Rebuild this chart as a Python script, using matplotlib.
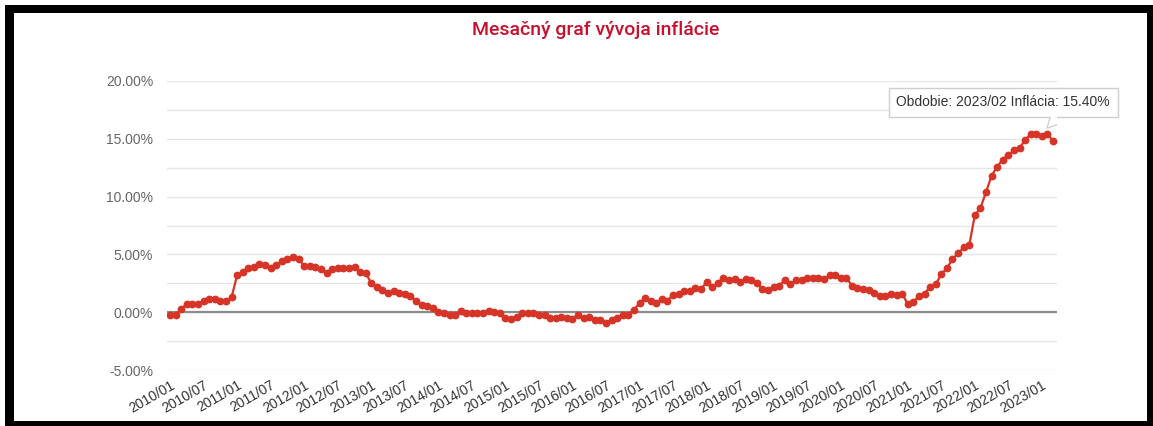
import matplotlib

matplotlib.use("Agg")
import matplotlib.pyplot as plt
import matplotlib.transforms as mtransforms
import numpy as np
from matplotlib.patches import Polygon, Rectangle

plt.rcParams["font.family"] = ["Liberation Sans", "DejaVu Sans"]

# mesačná inflácia (%), odčítané z grafu
infl_2010 = [-0.2, -0.2, 0.3, 0.7, 0.7, 0.7, 1.0, 1.1, 1.1, 1.0, 1.0, 1.3]
infl_2011 = [3.2, 3.5, 3.8, 3.9, 4.2, 4.1, 3.8, 4.1, 4.4, 4.6, 4.8, 4.6]
infl_2012 = [4.0, 4.0, 3.9, 3.7, 3.4, 3.7, 3.8, 3.8, 3.8, 3.9, 3.5, 3.4]
infl_2013 = [2.5, 2.2, 1.9, 1.7, 1.8, 1.7, 1.6, 1.4, 1.0, 0.6, 0.5, 0.4]
infl_2014 = [0.0, -0.1, -0.2, -0.2, 0.1, -0.1, -0.1, -0.1, -0.1, 0.1, 0.0, -0.1]
infl_2015 = [-0.5, -0.6, -0.4, -0.1, -0.1, -0.1, -0.2, -0.2, -0.5, -0.5, -0.4, -0.5]
infl_2016 = [-0.6, -0.2, -0.5, -0.4, -0.7, -0.7, -0.9, -0.7, -0.5, -0.2, -0.2, 0.2]
infl_2017 = [0.8, 1.2, 1.0, 0.8, 1.1, 1.0, 1.5, 1.6, 1.8, 1.8, 2.1, 2.0]
infl_2018 = [2.6, 2.2, 2.5, 3.0, 2.8, 2.9, 2.6, 2.9, 2.8, 2.5, 2.0, 1.9]
infl_2019 = [2.2, 2.3, 2.8, 2.4, 2.8, 2.8, 3.0, 3.0, 3.0, 2.9, 3.2, 3.2]
infl_2020 = [3.0, 3.0, 2.3, 2.1, 2.0, 1.9, 1.7, 1.4, 1.4, 1.6, 1.5, 1.6]
infl_2021 = [0.7, 0.9, 1.4, 1.6, 2.2, 2.4, 3.3, 3.8, 4.6, 5.1, 5.6, 5.8]
infl_2022 = [8.4, 9.0, 10.4, 11.8, 12.6, 13.2, 13.6, 14.0, 14.2, 14.9, 15.4, 15.4]
infl_2023 = [15.2, 15.4, 14.8]

inflation = np.array(
    infl_2010 + infl_2011 + infl_2012 + infl_2013 + infl_2014 + infl_2015 + infl_2016
    + infl_2017 + infl_2018 + infl_2019 + infl_2020 + infl_2021 + infl_2022 + infl_2023
)
periods = [f"{y}/{m:02d}" for y in range(2010, 2024) for m in range(1, 13)][: len(inflation)]

tick_labels = [
    "2010/01", "2010/07", "2011/01", "2011/07", "2012/01", "2012/07", "2013/01",
    "2013/07", "2014/01", "2014/07", "2015/01", "2015/07", "2016/01", "2016/07",
    "2017/01", "2017/07", "2018/01", "2018/07", "2019/01", "2019/07", "2020/01",
    "2020/07", "2021/01", "2021/07", "2022/01", "2022/07", "2023/01",
]
highlight_period = "2023/02"

W, H = 1153, 426
fig = plt.figure(figsize=(W / 100, H / 100), dpi=100)

# čierny rám okolo obrázka
fig.add_artist(Rectangle((5 / W, 0), 1 - 5 / W, 1 - 5 / H, transform=fig.transFigure,
                         facecolor="black", edgecolor="none", zorder=-2))
fig.add_artist(Rectangle((14 / W, 5 / H), (1147 - 14) / W, (413 - 5) / H, transform=fig.transFigure,
                         facecolor="white", edgecolor="none", zorder=-1))

ax = fig.add_axes([167 / W, 1 - 370 / H, (1057 - 167) / W, (370 - 81) / H])
ax.patch.set_visible(False)

x = np.arange(len(inflation))
ax.plot(x, inflation, color="#d63426", linewidth=1.6, marker="o", markersize=4.6, zorder=3)
ax.axhline(0, color="#8c8c8c", linewidth=1.6, zorder=2)

ax.set_xlim(-0.55, len(inflation) - 1 + 0.7)
ax.set_ylim(-5, 20)
yt = np.arange(-5, 20.01, 2.5)
ax.set_yticks(yt)
ax.set_yticklabels([f"{v:.2f}%" if v % 5 == 0 else "" for v in yt])
ax.grid(axis="y", color="#e6e6e6", linewidth=1)
ax.set_axisbelow(True)

ax.set_xticks([periods.index(t) for t in tick_labels])
ax.set_xticklabels(tick_labels, rotation=30, ha="right", rotation_mode="anchor")
ax.tick_params(axis="both", length=0)
ax.tick_params(axis="y", labelsize=10, labelcolor="#666666", pad=10)
ax.tick_params(axis="x", labelsize=10, labelcolor="#333333", pad=6)
for s in ax.spines.values():
    s.set_visible(False)

fig.text(596 / W, 1 - 30 / H, "Mesačný graf vývoja inflácie", ha="center", va="center",
         fontsize=14, color="#c8102e", family=["Roboto", "DejaVu Sans"], weight="medium")

# tooltip nad bodom 2023/02
hi = periods.index(highlight_period)
ax.annotate(
    f"Obdobie: {highlight_period} Inflácia: {inflation[hi]:.2f}%",
    xy=(hi, inflation[hi]), xytext=(-32, 23), textcoords="offset points",
    ha="center", va="center", fontsize=10, color="#333333", zorder=5,
    bbox=dict(boxstyle="square,pad=0.55", facecolor="white", edgecolor="#cfcfcf", linewidth=1),
)
# šípka tooltipu (v palcoch relatívne k bodu)
pt_trans = fig.dpi_scale_trans + mtransforms.ScaledTranslation(hi, inflation[hi], ax.transData)
ax.add_patch(Polygon([(0.025, 0.175), (-0.005, 0.06), (0.295, 0.175)], closed=True,
                     facecolor="white", edgecolor="none", transform=pt_trans, zorder=6))
ax.plot([0.025, -0.005, 0.295], [0.165, 0.06, 0.165], color="#cfcfcf", linewidth=1,
        transform=pt_trans, zorder=6)

fig.savefig("out.png", dpi=100)
plt.close()
